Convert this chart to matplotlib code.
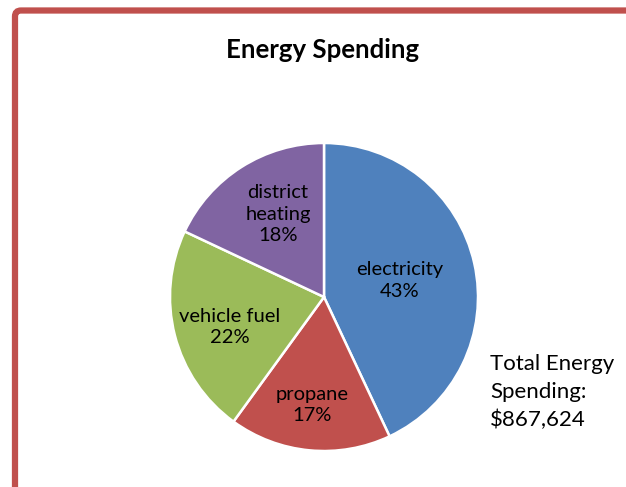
import matplotlib.pyplot as plt
from matplotlib.patches import FancyBboxPatch
import numpy as np

# ── data ─────────────────────────────────────────────
categories = ["electricity", "propane", "vehicle fuel", "district\nheating"]
shares = [43, 17, 22, 18]
colors = ["#4F81BD", "#C0504D", "#9BBB59", "#8064A2"]
total_label = "Total Energy\nSpending:\n$867,624"

# label placement (angle deg, distance as fraction of radius)
label_pos = [(12.4, 0.50), (-96.3, 0.705), (-162.3, 0.64), (119, 0.616)]

W, H = 626, 487
plt.rcParams["font.family"] = ["Lato", "DejaVu Sans"]

fig = plt.figure(figsize=(W / 100, H / 100), dpi=100)
ax = fig.add_axes([0, 0, 1, 1])

cx, cy, r = 324, 190, 154
wedges, _ = ax.pie(shares, colors=colors, startangle=90, counterclock=False,
                   center=(cx, cy), radius=r,
                   wedgeprops=dict(edgecolor="white", linewidth=1.8))

# pie() resets the limits, so set pixel-like coords afterwards
ax.set_xlim(0, W)
ax.set_ylim(0, H)
ax.set_aspect("equal")
ax.axis("off")

# red frame (top + left only visible)
frame = FancyBboxPatch((15, -40), W + 50, H - 10.5 + 40,
                       boxstyle="round,pad=0,rounding_size=6",
                       fc="none", ec="#C0504D", lw=4.5)
ax.add_patch(frame)

for name, val, (ang, d) in zip(categories, shares, label_pos):
    a = np.deg2rad(ang)
    ax.text(cx + d * r * np.cos(a), cy + d * r * np.sin(a), f"{name}\n{val}%",
            ha="center", va="center", fontsize=14.5, linespacing=1.3)

ax.text(W / 2 + 10, H - 50, "Energy Spending", ha="center", va="center",
        fontsize=18.5, fontweight="bold")

ax.text(490, H - 392, total_label, ha="left", va="center",
        fontsize=16, linespacing=1.5)

fig.savefig("out.png", dpi=100)
